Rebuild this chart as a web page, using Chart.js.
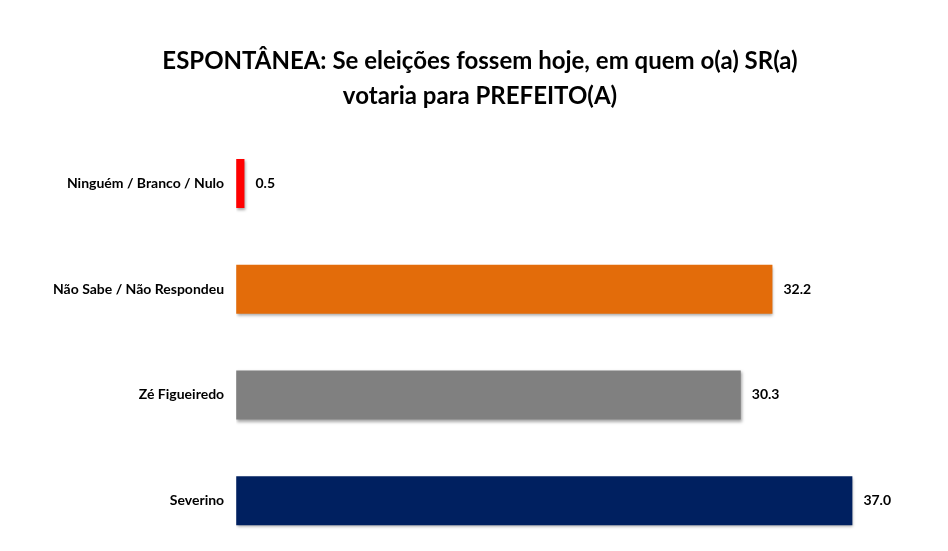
<!DOCTYPE html>
<html>
<head>
<meta charset="utf-8">
<script src="https://cdn.jsdelivr.net/npm/chart.js@4"></script>
<style>
  html, body { margin: 0; padding: 0; background: #fff; overflow: hidden; }
  #wrap { position: relative; width: 965px; height: 574px; }
</style>
</head>
<body>
<div id="wrap"><canvas id="chart"></canvas></div>
<script>
// Spontaneous vote intention chart
const categories = ['Ninguém / Branco / Nulo', 'Não Sabe / Não Respondeu', 'Zé Figueiredo', 'Severino'];
const values = [0.5, 32.2, 30.3, 37.0];
const barColors = ['#FF0000', '#E36C0A', '#808080', '#002060'];
const titleLines = ['ESPONTÂNEA: Se eleições fossem hoje, em quem o(a) SR(a)', 'votaria para PREFEITO(A)'];

// value labels at the end of each bar
const valueLabels = {
    id: 'valueLabels',
    afterDatasetsDraw(chart) {
        const ctx = chart.ctx;
        const meta = chart.getDatasetMeta(0);
        ctx.save();
        ctx.font = 'bold 14px Lato, sans-serif';
        ctx.fillStyle = '#000';
        ctx.textBaseline = 'middle';
        ctx.textAlign = 'left';
        meta.data.forEach((bar, i) => {
            ctx.fillText(values[i].toFixed(1), bar.x + 11, bar.y);
        });
        ctx.restore();
    }
};

// soft shadow under bars
const barShadow = {
    id: 'barShadow',
    beforeDatasetDraw(chart) {
        const ctx = chart.ctx;
        ctx.save();
        ctx.shadowColor = 'rgba(0, 0, 0, 0.35)';
        ctx.shadowBlur = 3;
        ctx.shadowOffsetX = 1;
        ctx.shadowOffsetY = 2;
    },
    afterDatasetDraw(chart) {
        chart.ctx.restore();
    }
};

new Chart(document.getElementById('chart'), {
    type: 'bar',
    data: {
        labels: categories,
        datasets: [{
            data: values,
            backgroundColor: barColors,
            borderWidth: 0,
            categoryPercentage: 1,
            barPercentage: 0.465
        }]
    },
    options: {
        indexAxis: 'y',
        responsive: true,
        maintainAspectRatio: false,
        animation: false,
        layout: { padding: { left: 41, right: 46, top: 0, bottom: 0 } },
        scales: {
            x: { display: false, min: 0, max: 41 },
            y: {
                grid: { display: false, drawTicks: false },
                border: { display: false },
                ticks: {
                    color: '#000',
                    padding: 12,
                    font: { family: 'Lato, sans-serif', size: 14, weight: 'bold' }
                }
            }
        },
        plugins: {
            legend: { display: false },
            tooltip: { enabled: false },
            title: {
                display: true,
                text: titleLines,
                color: '#000',
                font: { family: 'Lato, sans-serif', size: 24, weight: 'bold', lineHeight: 1.45 },
                padding: { top: 44, bottom: 17 }
            }
        }
    },
    plugins: [barShadow, valueLabels]
});
</script>
</body>
</html>
